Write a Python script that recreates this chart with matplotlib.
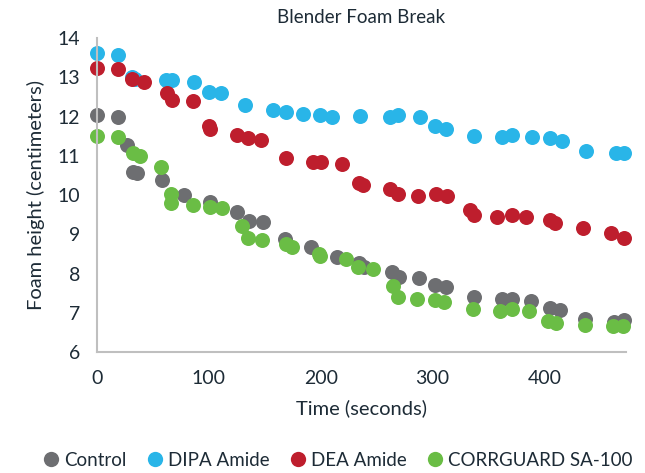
import matplotlib
matplotlib.use("Agg")
import matplotlib.pyplot as plt
from matplotlib.lines import Line2D

plt.rcParams['font.family'] = ['Lato', 'DejaVu Sans']

series_names = ["Control", "DIPA Amide", "DEA Amide", "CORRGUARD SA-100"]
colors = ["#6d6e71", "#29b5e8", "#be1e2d", "#6abd45"]

control_x = [0, 19.1, 26.6, 32.6, 35.7, 58.0, 77.4, 101.1, 125.3, 135.5, 148.3, 168.3, 191.5, 214.5,
             234.7, 238.9, 263.7, 269.6, 288.1, 302.5, 312.3, 336.7, 362.1, 371.1, 388.4, 404.7,
             413.7, 436.7, 462.1, 471.0]
control_y = [12.04, 11.98, 11.27, 10.59, 10.56, 10.38, 9.99, 9.83, 9.57, 9.35, 9.30, 8.87, 8.68, 8.41,
             8.26, 8.17, 8.05, 7.92, 7.88, 7.71, 7.66, 7.41, 7.34, 7.34, 7.31, 7.11,
             7.07, 6.83, 6.77, 6.82]

dipa_x = [0, 18.8, 31.1, 34.0, 61.7, 66.8, 87.1, 100.2, 110.7, 132.7, 157.8, 169.1, 184.1, 199.6,
          210.0, 235.3, 262.2, 268.7, 288.4, 302.5, 312.3, 336.7, 362.1, 371.1, 389.0, 404.7,
          415.8, 437.3, 464.2, 471.0]
dipa_y = [13.62, 13.57, 13.01, 12.96, 12.93, 12.93, 12.89, 12.63, 12.59, 12.29, 12.17, 12.11, 12.06, 12.04,
          11.98, 12.02, 11.98, 12.04, 11.99, 11.76, 11.68, 11.50, 11.47, 11.52, 11.47, 11.44,
          11.38, 11.13, 11.06, 11.06]

dea_x = [0, 19.1, 31.1, 42.1, 62.4, 66.8, 86.2, 100.2, 101.1, 125.3, 134.7, 146.8, 168.9, 193.0,
         200.4, 219.5, 234.5, 237.8, 262.2, 268.7, 286.6, 303.4, 312.9, 333.8, 337.4, 357.7,
         371.1, 383.9, 404.7, 409.8, 434.3, 459.7, 471.0]
dea_y = [13.23, 13.20, 12.95, 12.89, 12.59, 12.42, 12.39, 11.76, 11.67, 11.54, 11.44, 11.40, 10.95, 10.85,
         10.85, 10.79, 10.31, 10.25, 10.15, 10.02, 9.97, 10.03, 9.97, 9.62, 9.49, 9.45,
         9.49, 9.45, 9.36, 9.29, 9.15, 9.04, 8.90]

corr_x = [0, 19.1, 31.8, 38.5, 57.3, 65.8, 66.2, 86.2, 101.1, 112.1, 129.8, 134.7, 147.3, 168.9,
          174.2, 198.1, 199.6, 222.8, 233.8, 246.7, 264.6, 268.7, 286.4, 302.5, 309.9, 336.2,
          360.6, 371.1, 386.6, 403.0, 410.5, 436.4, 461.7, 470.7]
corr_y = [11.50, 11.47, 11.06, 10.99, 10.71, 10.02, 9.79, 9.75, 9.70, 9.66, 9.21, 8.90, 8.85, 8.74,
          8.68, 8.50, 8.45, 8.36, 8.17, 8.11, 7.68, 7.41, 7.36, 7.32, 7.28, 7.09,
          7.05, 7.10, 7.05, 6.80, 6.75, 6.69, 6.66, 6.66]

x_ticks = [0, 100, 200, 300, 400]
y_ticks = [6, 7, 8, 9, 10, 11, 12, 13, 14]

text_color = "#1d2b36"
axis_color = "#bfbfbf"

fig = plt.figure(figsize=(6.45, 4.73), dpi=100)
ax = fig.add_axes([97/645, 1-352/473, (626-97)/645, (352-38)/473])

all_x = [control_x, dipa_x, dea_x, corr_x]
all_y = [control_y, dipa_y, dea_y, corr_y]
for xs, ys, c, name in zip(all_x, all_y, colors, series_names):
    ax.plot(xs, ys, linestyle='none', marker='o', markersize=10.8,
            markerfacecolor=c, markeredgecolor='none', label=name, clip_on=False)

ax.set_xlim(0, 473)
ax.set_ylim(6, 14)
ax.set_xticks(x_ticks)
ax.set_yticks(y_ticks)
ax.tick_params(axis='both', length=0, labelsize=14, colors=text_color)
ax.tick_params(axis='x', pad=13)
ax.tick_params(axis='y', pad=12)

for s in ['top', 'right']:
    ax.spines[s].set_visible(False)
for s in ['left', 'bottom']:
    ax.spines[s].set_color(axis_color)
    ax.spines[s].set_linewidth(1.5)

ax.set_title("Blender Foam Break", fontsize=13.5, color=text_color, pad=11)
ax.set_xlabel("Time (seconds)", fontsize=14.5, color=text_color, labelpad=9)
ax.set_ylabel("Foam height (centimeters)", fontsize=14.5, color=text_color, labelpad=9)

handles = [Line2D([], [], linestyle='none', marker='o', markersize=11,
                  markerfacecolor=c, markeredgecolor='none') for c in colors]
fig.legend(handles, series_names, loc='center', bbox_to_anchor=(0.52, 1-460/473),
           ncol=4, frameon=False, fontsize=13.5, handletextpad=0.0, columnspacing=0.8,
           handlelength=1.4, labelcolor=text_color)

fig.savefig("out.png", dpi=100)
